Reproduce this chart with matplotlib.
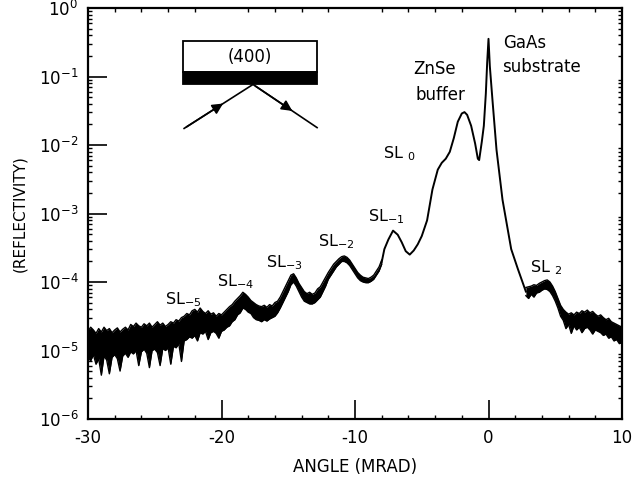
import numpy as np
import matplotlib
matplotlib.use('Agg')
import matplotlib.pyplot as plt
from matplotlib.ticker import MultipleLocator, LogLocator, NullFormatter
from matplotlib.patches import Rectangle, FancyArrowPatch

plt.rcParams['font.family'] = 'DejaVu Sans'
plt.rcParams['mathtext.fontset'] = 'dejavusans'
plt.rcParams['mathtext.default'] = 'regular'
plt.rcParams['axes.unicode_minus'] = False

# noisy low-angle side: log10 of top / bottom of the trace, 0.2 mrad steps from -30 to -8
left_top = [
    -4.72, -4.66, -4.70, -4.75, -4.68, -4.73, -4.66, -4.71, -4.68, -4.74,
    -4.70, -4.67, -4.73, -4.69, -4.66, -4.70, -4.62, -4.65, -4.60, -4.64,
    -4.66, -4.61, -4.64, -4.60, -4.66, -4.62, -4.58, -4.63, -4.60, -4.65,
    -4.62, -4.58, -4.60, -4.55, -4.57, -4.52, -4.50, -4.46, -4.48, -4.42,
    -4.40, -4.44, -4.38, -4.43, -4.46, -4.42, -4.47, -4.45, -4.50, -4.46,
    -4.48, -4.44, -4.40, -4.36, -4.33, -4.28, -4.24, -4.20, -4.15, -4.18,
    -4.22, -4.27, -4.30, -4.33, -4.35, -4.36, -4.34, -4.37, -4.33, -4.35,
    -4.30, -4.28, -4.22, -4.14, -4.06, -3.98, -3.90, -3.88, -3.94, -4.02,
    -4.08, -4.14, -4.17, -4.15, -4.18, -4.16, -4.10, -4.07, -4.00, -3.93,
    -3.86, -3.80, -3.74, -3.70, -3.66, -3.63, -3.62, -3.64, -3.68, -3.74,
    -3.80, -3.86, -3.90, -3.93, -3.94, -3.95, -3.93, -3.90, -3.84, -3.78,
    -3.68,
]
left_bottom = [
    -5.10, -5.15, -5.06, -5.20, -5.12, -5.36, -5.08, -5.14, -5.34, -5.10,
    -5.06, -5.12, -5.30, -5.08, -5.04, -5.10, -5.02, -5.05, -5.00, -5.22,
    -5.02, -4.98, -5.04, -5.25, -5.00, -4.98, -5.03, -5.22, -4.97, -5.00,
    -4.96, -5.20, -4.94, -4.96, -4.90, -5.16, -4.86, -4.84, -4.80, -4.82,
    -4.78, -4.86, -4.74, -4.76, -4.72, -4.84, -4.74, -4.72, -4.75, -4.82,
    -4.72, -4.70, -4.66, -4.64, -4.58, -4.55, -4.48, -4.45, -4.38, -4.40,
    -4.44, -4.46, -4.52, -4.55, -4.56, -4.58, -4.55, -4.57, -4.54, -4.52,
    -4.50, -4.45, -4.38, -4.30, -4.22, -4.14, -4.04, -4.00, -4.06, -4.14,
    -4.22, -4.28, -4.30, -4.32, -4.32, -4.30, -4.26, -4.22, -4.14, -4.06,
    -3.96, -3.90, -3.84, -3.78, -3.74, -3.70, -3.70, -3.72, -3.76, -3.82,
    -3.88, -3.94, -3.98, -4.00, -4.01, -4.01, -3.99, -3.96, -3.90, -3.84,
    -3.74,
]
angle_left = -30 + 0.2 * np.arange(len(left_top))

# smooth part around the SL0 / buffer / substrate peaks
angle_mid = [-8.0, -7.8, -7.5, -7.15, -6.8, -6.5, -6.2, -5.9, -5.6, -5.3, -5.0,
             -4.6, -4.2, -3.8, -3.5, -3.2, -2.9, -2.6, -2.3, -2.0, -1.8,
             -1.6, -1.3, -1.0, -0.8, -0.7, -0.5, -0.35, -0.2, -0.1, 0.0,
             0.1, 0.3, 0.6, 1.05, 1.7, 2.2, 2.6, 2.8]
logr_mid = [-3.71, -3.52, -3.38, -3.25, -3.31, -3.42, -3.55, -3.60, -3.54, -3.45, -3.33,
            -3.10, -2.65, -2.36, -2.26, -2.20, -2.10, -1.90, -1.66, -1.54, -1.52,
            -1.56, -1.72, -1.98, -2.20, -2.22, -1.95, -1.72, -1.25, -0.80, -0.45,
            -0.85, -1.35, -2.07, -2.80, -3.52, -3.81, -4.03, -4.14]

# noisy high-angle side, 0.2 mrad steps from 2.8 to 10
right_top = [
    -4.08, -4.07, -4.06, -4.04, -4.05, -4.02, -4.00, -3.98, -3.97, -4.00,
    -4.06, -4.14, -4.24, -4.34, -4.40, -4.44, -4.47, -4.45, -4.48, -4.44,
    -4.46, -4.42, -4.44, -4.41, -4.45, -4.43, -4.47, -4.50, -4.48, -4.52,
    -4.55, -4.53, -4.58, -4.60, -4.62, -4.64, -4.66,
]
right_bottom = [
    -4.20, -4.24, -4.18, -4.22, -4.16, -4.15, -4.12, -4.10, -4.11, -4.14,
    -4.20, -4.28, -4.38, -4.50, -4.56, -4.68, -4.62, -4.75, -4.64, -4.70,
    -4.66, -4.74, -4.68, -4.66, -4.70, -4.76, -4.70, -4.72, -4.74, -4.78,
    -4.76, -4.82, -4.80, -4.86, -4.84, -4.90, -4.88,
]
angle_right = 2.8 + 0.2 * np.arange(len(right_top))

# peak labels: (text, angle, log10 position of baseline)
peak_labels = [
    ('SL$_{-5}$', -24.2, -4.32),
    ('SL$_{-4}$', -20.3, -4.07),
    ('SL$_{-3}$', -16.7, -3.78),
    ('SL$_{-2}$', -12.8, -3.48),
    ('SL$_{-1}$', -9.0, -3.12),
    ('SL $_{0}$', -7.9, -2.19),
    ('SL $_{2}$', 3.1, -3.86),
]

fig = plt.figure(figsize=(6.32, 4.83), dpi=100)
ax = fig.add_axes([88 / 632, 1 - 419 / 483, 534 / 632, 411 / 483])

for a, top, bot in [(angle_left, left_top, left_bottom),
                    (angle_right, right_top, right_bottom)]:
    ax.fill_between(a, 10 ** np.array(bot), 10 ** np.array(top),
                    color='black', lw=0)
    ax.plot(a, 10 ** np.array(top), color='black', lw=1.0)
    ax.plot(a, 10 ** np.array(bot), color='black', lw=1.0)
ax.plot(angle_mid, 10 ** np.array(logr_mid), color='black', lw=1.4)

ax.set_yscale('log')
ax.set_xlim(-30, 10)
ax.set_ylim(1e-6, 1e0)

ax.set_xticks([-30, -20, -10, 0, 10])
ax.xaxis.set_minor_locator(MultipleLocator(2))
ax.yaxis.set_major_locator(LogLocator(base=10, numticks=10))
ax.yaxis.set_minor_locator(LogLocator(base=10, subs=np.arange(2, 10), numticks=20))
ax.yaxis.set_minor_formatter(NullFormatter())

ax.tick_params(which='major', direction='in', length=14, width=1.2,
               labelsize=12, pad=7, top=False, right=False)
ax.tick_params(which='minor', direction='in', length=3, width=1.0,
               top=True, right=True)
for s in ax.spines.values():
    s.set_linewidth(1.6)

ax.set_xlabel('ANGLE (MRAD)', fontsize=12, labelpad=8)
ax.set_ylabel('(REFLECTIVITY)', fontsize=11, labelpad=8)

for txt, x, ly in peak_labels:
    ax.text(x, 10 ** ly, txt, fontsize=11.5, ha='left', va='baseline')

ax.text(-5.65, 10 ** -0.96, 'ZnSe', fontsize=12, ha='left', va='baseline')
ax.text(-5.5, 10 ** -1.35, 'buffer', fontsize=12, ha='left', va='baseline')
ax.text(1.1, 10 ** -0.59, 'GaAs', fontsize=12, ha='left', va='baseline')
ax.text(1.0, 10 ** -0.94, 'substrate', fontsize=12, ha='left', va='baseline')

# inset sketch of the (400) reflection geometry
tr = ax.transAxes
ax.add_patch(Rectangle((0.178, 0.844), 0.251, 0.075, transform=tr,
                       facecolor='white', edgecolor='black', lw=1.3))
ax.add_patch(Rectangle((0.178, 0.814), 0.251, 0.030, transform=tr,
                       facecolor='black', edgecolor='black', lw=1.3))
ax.text(0.303, 0.880, '(400)', transform=tr, fontsize=12, ha='center', va='center')
p0, p1, p2 = (0.180, 0.707), (0.309, 0.814), (0.429, 0.709)
ax.plot([p0[0], p1[0]], [p0[1], p1[1]], color='black', lw=1.2, transform=tr)
ax.plot([p1[0], p2[0]], [p1[1], p2[1]], color='black', lw=1.2, transform=tr)
mid_in = (p0[0] + 0.6 * (p1[0] - p0[0]), p0[1] + 0.6 * (p1[1] - p0[1]))
mid_out = (p1[0] + 0.65 * (p2[0] - p1[0]), p1[1] + 0.65 * (p2[1] - p1[1]))
ax.add_patch(FancyArrowPatch(p0, mid_in, transform=tr, arrowstyle='-|>',
                             mutation_scale=16, color='black', lw=1.2))
ax.add_patch(FancyArrowPatch(p1, mid_out, transform=tr, arrowstyle='-|>',
                             mutation_scale=16, color='black', lw=1.2))

fig.savefig('out.png', dpi=100)
